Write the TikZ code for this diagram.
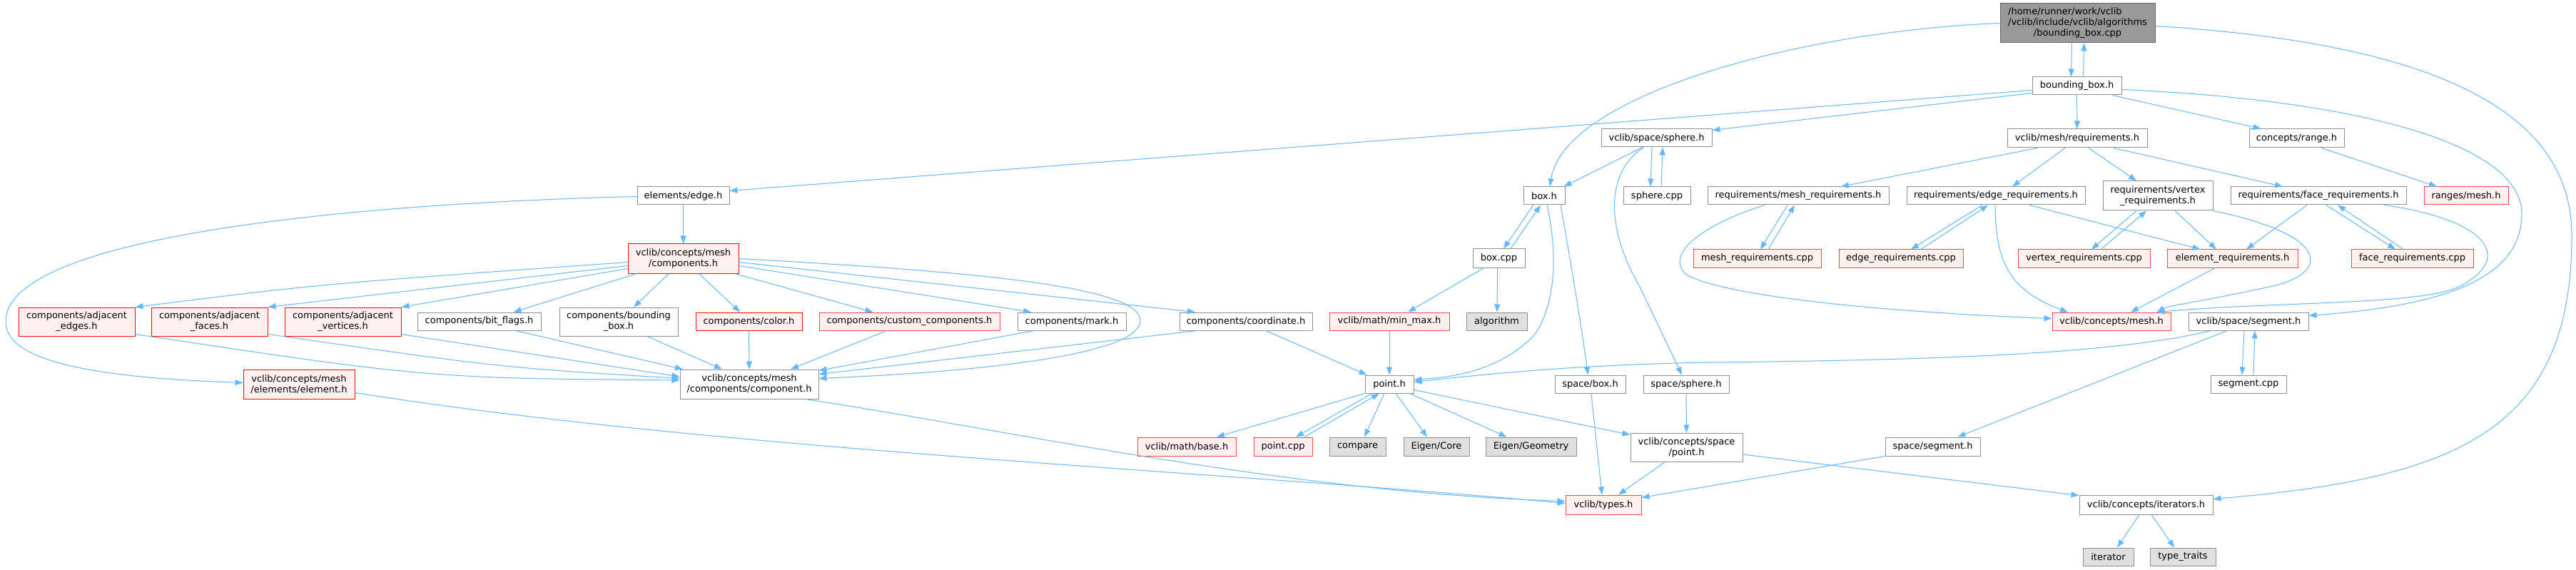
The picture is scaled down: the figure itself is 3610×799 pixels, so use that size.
\documentclass[tikz,border=0pt]{standalone}
\usepackage{fontspec}
\setmainfont{DejaVu Sans}
\usetikzlibrary{arrows.meta}
\definecolor{edgec}{HTML}{63B8FF}
\definecolor{nbord}{HTML}{8F8F8F}
\definecolor{rfill}{HTML}{FFF0F0}
\definecolor{rbordA}{HTML}{FF0000}
\definecolor{rbordB}{HTML}{F54545}
\definecolor{gfill}{HTML}{E0E0E0}
\definecolor{topfill}{HTML}{999999}
\definecolor{topbord}{HTML}{666666}
\tikzset{
  box/.style={rectangle, inner sep=0pt, align=center, line width=1pt,
    font=\fontsize{13pt}{15pt}\selectfont},
  nrm/.style={box, draw=nbord, fill=white},
  redA/.style={box, draw=rbordA, fill=rfill},
  redB/.style={box, draw=rbordB, fill=rfill},
  gry/.style={box, draw=nbord, fill=gfill},
  topn/.style={box, draw=topbord, fill=topfill},
  dep/.style={draw=edgec, line width=1pt, -{Triangle[length=11pt,width=8pt]}},
}
\begin{document}
\begin{tikzpicture}[x=1pt,y=-1pt]
\fill[white] (0,0) rectangle (3610,799);
\useasboundingbox (0,0) rectangle (3610,799);
% ---- nodes
\node[topn, minimum width=217pt, minimum height=55pt] (top) at (2911.5,32.5)
  {\rlap{/home/runner/work/vclib}\phantom{/vclib/include/vclib/algorithms}\\/vclib/include/vclib/algorithms\\/bounding\_box.cpp};
\node[nrm, minimum width=125pt, minimum height=25pt] (bbh) at (2910.5,120.5) {bounding\_box.h};
\node[nrm, minimum width=196pt, minimum height=26pt] (req) at (2911,194) {vclib/mesh/requirements.h};
\node[nrm, minimum width=133pt, minimum height=26pt] (range) at (3218.5,194) {concepts/range.h};
\node[nrm, minimum width=155pt, minimum height=25pt] (sph) at (2321.5,193.5) {vclib/space/sphere.h};
\node[nrm, minimum width=129pt, minimum height=25pt] (edgeh) at (957.5,274.5) {elements/edge.h};
\node[nrm, minimum width=58pt, minimum height=25pt] (boxh) at (2164,274.5) {box.h};
\node[nrm, minimum width=94pt, minimum height=25pt] (sphcpp) at (2322,274.5) {sphere.cpp};
\node[nrm, minimum width=254pt, minimum height=25pt] (meshreq) at (2520,274.5) {requirements/mesh\_requirements.h};
\node[nrm, minimum width=250pt, minimum height=25pt] (edgereq) at (2797,274.5) {requirements/edge\_requirements.h};
\node[nrm, minimum width=154pt, minimum height=41pt] (vertreq) at (3024,274.5) {requirements/vertex\\\_requirements.h};
\node[nrm, minimum width=246pt, minimum height=25pt] (facereq) at (3249,274.5) {requirements/face\_requirements.h};
\node[redB, minimum width=118pt, minimum height=25pt] (rangesmesh) at (3456,274.5) {ranges/mesh.h};
\node[redA, minimum width=155pt, minimum height=41pt] (compsh) at (957.5,362.5) {vclib/concepts/mesh\\/components.h};
\node[nrm, minimum width=73pt, minimum height=26pt] (boxcpp) at (2100.5,362) {box.cpp};
\node[redB, minimum width=179pt, minimum height=25pt] (meshreqcpp) at (2462.5,362.5) {mesh\_requirements.cpp};
\node[redB, minimum width=174pt, minimum height=25pt] (edgereqcpp) at (2664,362.5) {edge\_requirements.cpp};
\node[redB, minimum width=185pt, minimum height=25pt] (vertreqcpp) at (2920.5,362.5) {vertex\_requirements.cpp};
\node[redB, minimum width=183pt, minimum height=25pt] (elemreq) at (3128.5,362.5) {element\_requirements.h};
\node[redB, minimum width=171pt, minimum height=25pt] (facereqcpp) at (3380.5,362.5) {face\_requirements.cpp};
\node[redA, minimum width=163pt, minimum height=40pt] (adjedges) at (107.5,451) {components/adjacent\\\_edges.h};
\node[redA, minimum width=163pt, minimum height=40pt] (adjfaces) at (293.5,451) {components/adjacent\\\_faces.h};
\node[redA, minimum width=163pt, minimum height=40pt] (adjverts) at (480.5,451) {components/adjacent\\\_vertices.h};
\node[nrm, minimum width=173pt, minimum height=25pt] (bitflags) at (671.5,450.5) {components/bit\_flags.h};
\node[nrm, minimum width=166pt, minimum height=40pt] (bbox) at (867,451) {components/bounding\\\_box.h};
\node[redA, minimum width=149pt, minimum height=25pt] (color) at (1049.5,450.5) {components/color.h};
\node[redB, minimum width=253pt, minimum height=25pt] (custom) at (1274.5,450.5) {components/custom\_components.h};
\node[nrm, minimum width=152pt, minimum height=25pt] (mark) at (1502,450.5) {components/mark.h};
\node[nrm, minimum width=186pt, minimum height=25pt] (coord) at (1746,450.5) {components/coordinate.h};
\node[redB, minimum width=168pt, minimum height=25pt] (minmax) at (1947,450.5) {vclib/math/min\_max.h};
\node[gry, minimum width=85pt, minimum height=25pt] (algorithm) at (2097.5,450.5) {algorithm};
\node[redB, minimum width=166pt, minimum height=25pt] (cmesh) at (2959,450.5) {vclib/concepts/mesh.h};
\node[nrm, minimum width=168pt, minimum height=25pt] (seg) at (3151,450.5) {vclib/space/segment.h};
\node[redA, minimum width=156pt, minimum height=41pt] (element) at (419,538.5) {vclib/concepts/mesh\\/elements/element.h};
\node[nrm, minimum width=194pt, minimum height=41pt] (component) at (1050,538.5) {vclib/concepts/mesh\\/components/component.h};
\node[nrm, minimum width=68pt, minimum height=25pt] (pointh) at (1947,538.5) {point.h};
\node[nrm, minimum width=99pt, minimum height=25pt] (spacebox) at (2228.5,538.5) {space/box.h};
\node[nrm, minimum width=120pt, minimum height=25pt] (spacesph) at (2363,538.5) {space/sphere.h};
\node[nrm, minimum width=106pt, minimum height=25pt] (segcpp) at (3151,538.5) {segment.cpp};
\node[redB, minimum width=138pt, minimum height=26pt] (base) at (1663,626) {vclib/math/base.h};
\node[redB, minimum width=82pt, minimum height=26pt] (pointcpp) at (1798,626) {point.cpp};
\node[gry, minimum width=79pt, minimum height=26pt] (compare) at (1902.5,626) {compare};
\node[gry, minimum width=92pt, minimum height=26pt] (eigcore) at (2013,626) {Eigen/Core};
\node[gry, minimum width=127pt, minimum height=26pt] (eiggeo) at (2145.5,626) {Eigen/Geometry};
\node[nrm, minimum width=157pt, minimum height=40pt] (cspoint) at (2363.5,627) {vclib/concepts/space\\/point.h};
\node[nrm, minimum width=133pt, minimum height=26pt] (spaceseg) at (2708.5,626) {space/segment.h};
\node[redB, minimum width=106pt, minimum height=27pt] (types) at (2247,707.5) {vclib/types.h};
\node[nrm, minimum width=187pt, minimum height=27pt] (iters) at (3007.5,707.5) {vclib/concepts/iterators.h};
\node[gry, minimum width=71pt, minimum height=25pt] (iterator) at (2954.5,780.5) {iterator};
\node[gry, minimum width=92pt, minimum height=25pt] (typetraits) at (3059,780.5) {type\_traits};
% ---- edges
\draw[dep] ([xshift=-8pt]top.south) -- ([xshift=-8pt]bbh.north);
\draw[dep] ([xshift=9pt]bbh.north) -- ([xshift=9pt]top.south);
\draw[dep] (top.west) .. controls (2500,45) and (2190,140) .. ([xshift=8pt]boxh.north);
\draw[dep] ([yshift=-4pt]top.east) .. controls (3400,60) and (3604,150) .. (3604,330) .. controls (3604,600) and (3450,670) .. ([yshift=8pt]iters.east);
\draw[dep] ([yshift=-6pt]bbh.west) -- ([yshift=7pt]edgeh.east);
\draw[dep] ([yshift=-10pt]bbh.west) -- ([yshift=-2pt]sph.north east);
\draw[dep] (bbh) -- (req);
\draw[dep] ([xshift=50pt]bbh.south) -- ([xshift=-50pt]range.north);
\draw[dep] ([yshift=-5pt]bbh.east) .. controls (3300,140) and (3534,200) .. (3534,300) .. controls (3534,400) and (3400,430) .. ([yshift=8pt]seg.east);
\draw[dep] ([xshift=-56pt]req.south) -- ([xshift=60pt]meshreq.north);
\draw[dep] ([xshift=-17pt]req.south) -- ([xshift=23pt]edgereq.north);
\draw[dep] ([xshift=16pt]req.south) -- ([xshift=-30pt]vertreq.north);
\draw[dep] ([xshift=51pt]req.south) -- ([xshift=-50pt]facereq.north);
\draw[dep] ([xshift=35pt]range.south) -- ([xshift=-41pt]rangesmesh.north);
\draw[dep] ([xshift=-15pt]meshreq.south) -- ([xshift=4.5pt]meshreqcpp.north);
\draw[dep] ([xshift=15.5pt]meshreqcpp.north) -- ([xshift=-5pt]meshreq.south);
\draw[dep] ([xshift=-47pt]meshreq.south) .. controls (2400,310) and (2330,352) .. (2362,384) .. controls (2420,420) and (2700,440) .. ([yshift=4pt]cmesh.west);
\draw[dep] ([xshift=-19pt]edgereq.south) -- ([xshift=14pt]edgereqcpp.north);
\draw[dep] ([xshift=28pt]edgereqcpp.north) -- ([xshift=-11pt]edgereq.south);
\draw[dep] ([xshift=47pt]edgereq.south) -- ([xshift=-45pt]elemreq.north);
\draw[dep] ([xshift=-1pt]edgereq.south) .. controls (2797,360) and (2810,405) .. ([xshift=-61pt]cmesh.north);
\draw[dep] ([xshift=-30pt]vertreq.south) -- ([xshift=10.5pt]vertreqcpp.north);
\draw[dep] ([xshift=23.5pt]vertreqcpp.north) -- ([xshift=-16pt]vertreq.south);
\draw[dep] ([xshift=24pt]vertreq.south) -- ([xshift=-22.5pt]elemreq.north);
\draw[dep] (vertreq.south east) .. controls (3270,330) and (3265,385) .. (3180,402) .. controls (3100,420) and (3040,428) .. ([xshift=-20pt]cmesh.north east);
\draw[dep] ([xshift=11pt]facereq.south) -- ([xshift=-23.5pt]facereqcpp.north);
\draw[dep] ([xshift=-12.5pt]facereqcpp.north) -- ([xshift=27pt]facereq.south);
\draw[dep] ([xshift=-16pt]facereq.south) -- ([xshift=19.5pt]elemreq.north);
\draw[dep] ([xshift=92pt]facereq.south) .. controls (3470,305) and (3530,355) .. (3450,400) .. controls (3400,428) and (3200,422) .. ([xshift=-20pt]cmesh.north east);
\draw[dep] ([xshift=-24pt]elemreq.south) -- ([xshift=27pt]cmesh.north);
\draw[dep] ([xshift=-20pt]sph.south) -- ([xshift=-2pt]boxh.north east);
\draw[dep] ([xshift=-6.5pt]sph.south) -- ([xshift=-9pt]sphcpp.north);
\draw[dep] ([xshift=6pt]sphcpp.north) -- ([xshift=8.5pt]sph.south);
\draw[dep] ([xshift=-18pt]sph.south) .. controls (2250,240) and (2250,320) .. (2297,400) -- ([xshift=-6pt]spacesph.north);
\draw[dep] ([xshift=-15pt]boxh.south) -- ([xshift=6.5pt]boxcpp.north);
\draw[dep] ([xshift=16.5pt]boxcpp.north) -- ([xshift=-5pt]boxh.south);
\draw[dep] ([xshift=4pt]boxh.south) .. controls (2180,340) and (2185,420) .. (2150,470) .. controls (2100,520) and (2040,528) .. ([yshift=6pt]pointh.east);
\draw[dep] ([xshift=23pt]boxh.south) .. controls (2200,360) and (2215,450) .. ([xshift=-3pt]spacebox.north);
\draw[dep] ([xshift=-21pt]boxcpp.south) -- ([xshift=26pt]minmax.north);
\draw[dep] ([xshift=-2pt]boxcpp.south) -- ([xshift=0.5pt]algorithm.north);
\draw[dep] (minmax) -- (pointh);
\draw[dep] ([xshift=28pt]coord.south) -- ([xshift=3pt]pointh.north west);
\draw[dep] ([xshift=-53pt]seg.south) .. controls (2950,500) and (2650,505) .. (2400,508) .. controls (2200,511) and (2060,527) .. ([yshift=3pt]pointh.east);
\draw[dep] ([xshift=-6pt]seg.south) -- ([xshift=-9pt]segcpp.north);
\draw[dep] ([xshift=7pt]segcpp.north) -- ([xshift=9pt]seg.south);
\draw[dep] ([xshift=-30pt]seg.south) -- ([xshift=35pt]spaceseg.north);
\draw[dep] (spaceseg.south west) -- ([yshift=-4pt]types.north east);
\draw[dep] ([xshift=-30pt]cspoint.south) -- ([xshift=21pt]types.north);
\draw[dep] ([yshift=-10pt]cspoint.east) -- ([yshift=-1pt]iters.north west);
\draw[dep] (spacesph) -- (cspoint);
\draw[dep] (spacebox) -- ([xshift=-2pt]types.north);
\draw[dep] (pointh.south west) -- ([xshift=42pt]base.north);
\draw[dep] ([xshift=-24pt]pointh.south) -- ([xshift=18pt]pointcpp.north);
\draw[dep] ([xshift=30pt]pointcpp.north) -- ([xshift=-14pt]pointh.south);
\draw[dep] ([xshift=-7pt]pointh.south) -- ([xshift=9.5pt]compare.north);
\draw[dep] ([xshift=9pt]pointh.south) -- ([xshift=-13pt]eigcore.north);
\draw[dep] ([xshift=-6pt]pointh.south east) -- ([xshift=-34pt]eiggeo.north);
\draw[dep] ([yshift=-8pt]pointh.east) -- ([yshift=-3pt]cspoint.north west);
\draw[dep] ([xshift=-9.5pt]iters.south) -- ([xshift=12.5pt]iterator.north);
\draw[dep] ([xshift=7.5pt]iters.south) -- ([xshift=-12pt]typetraits.north);
\draw[dep] (edgeh) -- (compsh);
\draw[dep] ([yshift=-1pt]edgeh.west) .. controls (500,285) and (10,330) .. (8,450) .. controls (6,510) and (150,530) .. ([yshift=2pt]element.west);
\draw[dep] ([yshift=-5pt]compsh.west) .. controls (450,398) .. (adjedges.north east);
\draw[dep] ([yshift=-10pt]compsh.west) -- (adjfaces.north east);
\draw[dep] ([yshift=-14pt]compsh.west) -- (adjverts.north east);
\draw[dep] ([xshift=-65pt]compsh.south) -- ([xshift=48pt]bitflags.north);
\draw[dep] ([xshift=-20pt]compsh.south) -- ([xshift=21pt]bbox.north);
\draw[dep] ([xshift=22pt]compsh.south) -- ([xshift=-12.5pt]color.north);
\draw[dep] ([xshift=-6pt]compsh.south east) -- ([xshift=-51pt]custom.north);
\draw[dep] ([yshift=-10pt]compsh.east) -- ([xshift=-57pt]mark.north);
\draw[dep] ([yshift=-5pt]compsh.east) -- ([xshift=-71pt]coord.north);
\draw[dep] (compsh.east) .. controls (1350,380) and (1600,400) .. (1598,450) .. controls (1596,500) and (1350,522) .. ([yshift=8pt]component.east);
\draw[dep] ([yshift=3pt]adjedges.south east) .. controls (600,530) .. ([yshift=5.5pt]component.west);
\draw[dep] ([yshift=3pt]adjfaces.south east) .. controls (700,515) .. ([yshift=8pt]component.west);
\draw[dep] ([yshift=3pt]adjverts.south east) -- ([yshift=10.5pt]component.west);
\draw[dep] ([xshift=51pt]bitflags.south) -- ([xshift=-93pt]component.north);
\draw[dep] ([xshift=40pt]bbox.south) -- ([xshift=-38pt]component.north);
\draw[dep] (color) -- (component);
\draw[dep] ([xshift=-32pt]custom.south) -- ([xshift=58pt]component.north);
\draw[dep] ([xshift=-53pt]mark.south) -- ([yshift=-2pt]component.north east);
\draw[dep] ([xshift=-68pt]coord.south) -- ([yshift=-7pt]component.north east);
\draw[dep] ([xshift=78pt]component.south) .. controls (1400,600) and (1800,690) .. ([yshift=5pt]types.west);
\draw[dep] ([yshift=-12pt]element.east) .. controls (1000,630) and (1700,660) .. ([yshift=2pt]types.west);
\end{tikzpicture}
\end{document}
